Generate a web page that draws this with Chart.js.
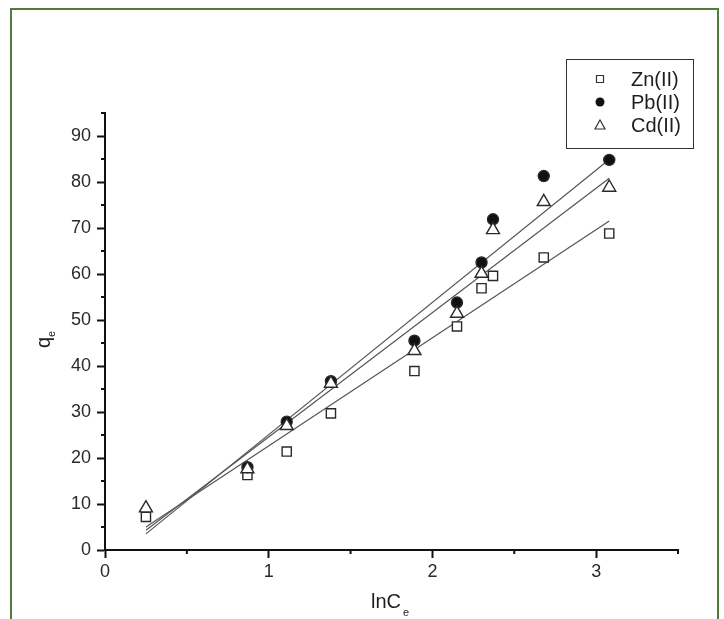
<!DOCTYPE html>
<html>
<head>
<meta charset="utf-8">
<script src="https://cdn.jsdelivr.net/npm/chart.js@4.4.1/dist/chart.umd.min.js"></script>
<style>
  html, body { margin: 0; padding: 0; background: #fff; }
  #wrap { position: relative; width: 724px; height: 619px; overflow: hidden; }
  #frame {
    position: absolute; left: 10px; top: 8px; width: 705px; height: 640px;
    border: 2px solid #517c3d; pointer-events: none;
  }
</style>
</head>
<body>
<div id="wrap">
  <canvas id="isothermChart" width="724" height="619"></canvas>
  <div id="frame"></div>
</div>
<script>
// lnCe values shared by all three metals
const lnCe = [0.25, 0.87, 1.11, 1.38, 1.89, 2.15, 2.30, 2.37, 2.68, 3.08]

// qe
const qeZn = [7.2, 16.3, 21.4, 29.7, 38.9, 48.6, 56.9, 59.6, 63.6, 68.8]
const qePb = [null, 18.0, 27.9, 36.7, 45.5, 53.8, 62.5, 71.9, 81.3, 84.8]
const qeCd = [9.1, 17.6, 27.0, 36.2, 43.3, 51.4, 60.1, 69.6, 75.7, 78.8]

// fitted straight lines, endpoints
const fitX = [0.25, 3.08]
const fitZn = [5.0, 71.5]
const fitPb = [3.5, 84.9]
const fitCd = [4.3, 80.8]

const metals = ['Zn(II)', 'Pb(II)', 'Cd(II)']

const xMajorTicks = [0, 1, 2, 3]
const xMinorTicks = [0.5, 1.5, 2.5, 3.5]
const yMajorTicks = [0, 10, 20, 30, 40, 50, 60, 70, 80, 90]
const yMinorTicks = [5, 15, 25, 35, 45, 55, 65, 75, 85, 95]

const FONT = "'Liberation Sans', Arial, sans-serif"
const ink = '#1e1e1e'

const toPoints = (xs, ys) => xs.map((x, i) => ({ x: x, y: ys[i] }))

const pointSets = [
    { label: metals[0], data: toPoints(lnCe, qeZn), pointStyle: 'rect', pointRadius: 6.5, backgroundColor: '#fff', order: 3 },
    { label: metals[1], data: toPoints(lnCe, qePb), pointStyle: 'circle', pointRadius: 5.5, backgroundColor: '#111', order: 2 },
    { label: metals[2], data: toPoints(lnCe, qeCd), pointStyle: 'triangle', pointRadius: 7.5, backgroundColor: '#fff', order: 1 }
].map(ds => Object.assign(ds, {
    borderColor: '#2a2a2a',
    borderWidth: 1.4,
    showLine: false
}))

const fitSets = [fitZn, fitPb, fitCd].map((ys, i) => ({
    label: 'fit ' + metals[i],
    data: toPoints(fitX, ys),
    showLine: true,
    pointRadius: 0,
    borderColor: '#555',
    borderWidth: 1.2,
    fill: false,
    order: 10
}))

// small legend marker, drawn by hand
function legendMarker(ctx, style, x, y) {
    ctx.beginPath()
    if (style === 'rect') {
        ctx.rect(x - 3.5, y - 3.5, 7, 7)
        ctx.fillStyle = '#fff'
        ctx.fill()
        ctx.stroke()
    } else if (style === 'circle') {
        ctx.arc(x, y, 4.5, 0, Math.PI * 2)
        ctx.fillStyle = '#111'
        ctx.fill()
    } else {
        ctx.moveTo(x, y - 5)
        ctx.lineTo(x + 5, y + 4)
        ctx.lineTo(x - 5, y + 4)
        ctx.closePath()
        ctx.fillStyle = '#fff'
        ctx.fill()
        ctx.stroke()
    }
}

// minor ticks, axis titles with subscripts, framed legend
const extras = {
    id: 'extras',
    afterDraw(chart) {
        const ctx = chart.ctx
        const area = chart.chartArea
        const xs = chart.scales.x
        const ys = chart.scales.y

        ctx.save()
        ctx.strokeStyle = '#111'
        ctx.lineWidth = 2
        ctx.beginPath()
        yMinorTicks.forEach(v => {
            const py = ys.getPixelForValue(v)
            ctx.moveTo(area.left - 4, py)
            ctx.lineTo(area.left, py)
        })
        xMinorTicks.forEach(v => {
            const px = xs.getPixelForValue(v)
            ctx.moveTo(px, area.bottom)
            ctx.lineTo(px, area.bottom + 4)
        })
        ctx.stroke()

        // axis titles
        ctx.fillStyle = ink
        ctx.textBaseline = 'alphabetic'
        ctx.textAlign = 'left'
        ctx.font = '20px ' + FONT
        ctx.fillText('lnC', 371, 608)
        ctx.font = '11px ' + FONT
        ctx.fillText('e', 403, 616)

        ctx.save()
        ctx.translate(50, 348)
        ctx.rotate(-Math.PI / 2)
        ctx.font = '20px ' + FONT
        ctx.fillText('q', 0, 0)
        ctx.font = '11px ' + FONT
        ctx.fillText('e', 11, 5)
        ctx.restore()

        // legend
        ctx.fillStyle = '#fff'
        ctx.fillRect(566, 59, 127, 89)
        ctx.strokeStyle = '#333'
        ctx.lineWidth = 1
        ctx.strokeRect(566.5, 59.5, 127, 89)

        pointSets.forEach((ds, i) => {
            const cy = 79 + i * 23
            ctx.strokeStyle = '#333'
            ctx.lineWidth = 1.2
            legendMarker(ctx, ds.pointStyle, 600, cy)
            ctx.fillStyle = ink
            ctx.font = '20px ' + FONT
            ctx.textBaseline = 'middle'
            ctx.fillText(ds.label, 631, cy + 1)
        })
        ctx.restore()
    }
}

new Chart(document.getElementById('isothermChart'), {
    type: 'scatter',

    data: {
        datasets: fitSets.concat(pointSets)
    },

    plugins: [extras],

    options: {
        responsive: false,
        animation: false,
        devicePixelRatio: 1,

        layout: {
            padding: { top: 113, right: 46, bottom: 0, left: 0 }
        },

        plugins: {
            legend: { display: false },
            tooltip: { enabled: false }
        },

        scales: {
            x: {
                type: 'linear',
                min: 0,
                max: 3.5,
                afterFit(scale) {
                    scale.height = 69
                    scale.paddingLeft = 0
                    scale.paddingRight = 0
                },
                afterBuildTicks(scale) {
                    scale.ticks = xMajorTicks.map(v => ({ value: v }))
                },
                ticks: {
                    color: '#2a2a2a',
                    padding: 3,
                    font: { family: FONT, size: 18 },
                    callback: v => String(v)
                },
                grid: {
                    drawOnChartArea: false,
                    drawTicks: true,
                    tickLength: 8,
                    tickWidth: 2,
                    color: '#111'
                },
                border: { display: true, color: '#111', width: 2 }
            },

            y: {
                type: 'linear',
                min: 0,
                max: 95,
                afterFit(scale) {
                    scale.width = 105
                    scale.paddingTop = 0
                    scale.paddingBottom = 0
                },
                afterBuildTicks(scale) {
                    scale.ticks = yMajorTicks.map(v => ({ value: v }))
                },
                ticks: {
                    color: '#2a2a2a',
                    padding: 6,
                    font: { family: FONT, size: 18 },
                    callback: v => String(v)
                },
                grid: {
                    drawOnChartArea: false,
                    drawTicks: true,
                    tickLength: 8,
                    tickWidth: 2,
                    color: '#111'
                },
                border: { display: true, color: '#111', width: 2 }
            }
        }
    }
})
</script>
</body>
</html>
